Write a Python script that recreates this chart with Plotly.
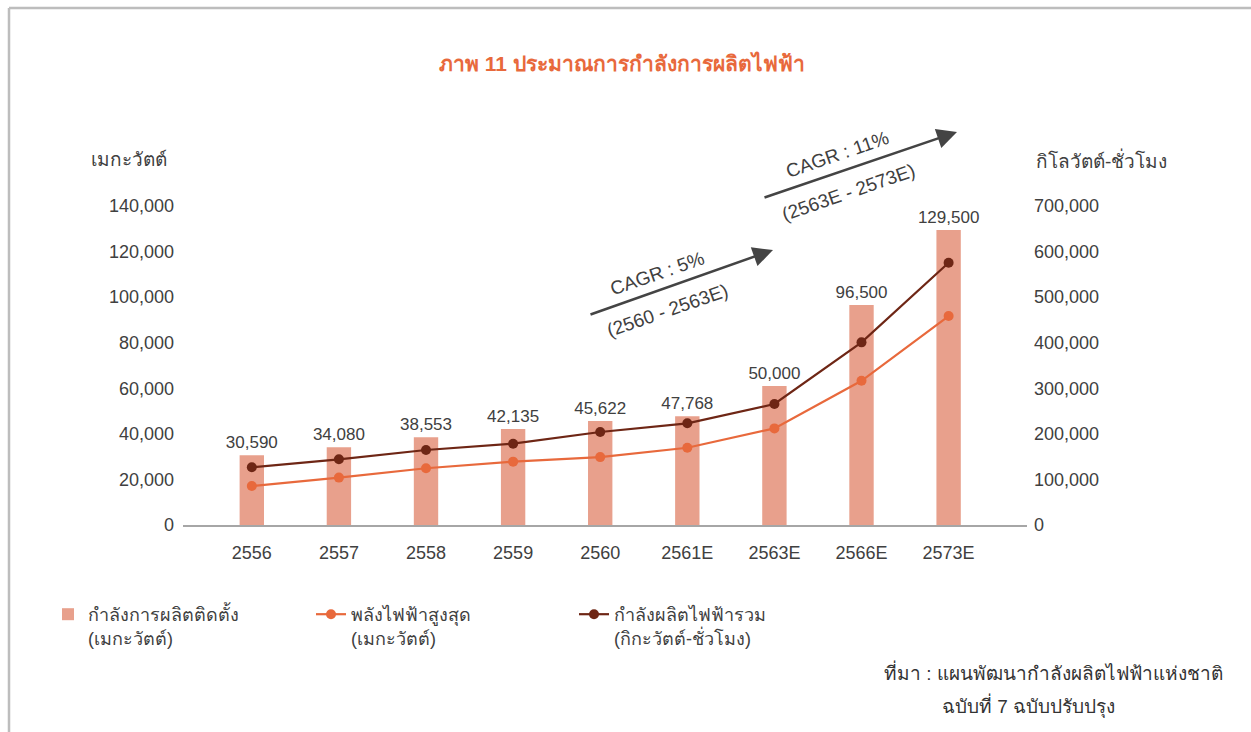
import plotly.graph_objects as go

# ---- data ----
years = ["2556", "2557", "2558", "2559", "2560", "2561E", "2563E", "2566E", "2573E"]
capacity_mw = [30590, 34080, 38553, 42135, 45622, 47768, 61000, 96500, 129500]
capacity_labels = ["30,590", "34,080", "38,553", "42,135", "45,622", "47,768", "50,000", "96,500", "129,500"]
peak_mw = [17100, 20800, 24900, 27800, 29800, 33900, 42400, 63300, 91700]
energy_kwh = [126600, 144100, 164600, 178400, 204000, 223100, 265500, 400800, 575500]
left_ticks = [0, 20000, 40000, 60000, 80000, 100000, 120000, 140000]
right_ticks = [0, 100000, 200000, 300000, 400000, 500000, 600000, 700000]

FONT = "Liberation Sans, Arial, Noto Sans, sans-serif"
TXT = "#404040"
BAR = "#E8A08C"
ORANGE = "#E8693C"
BROWN = "#6E2615"

W, H = 1251, 732
L, R, T, B = 183, 224, 206, 207
PW, PH = W - L - R, H - T - B


def px(x):
    return (x - L) / PW


def py(y):
    return (H - B - y) / PH


fig = go.Figure()
fig.add_trace(go.Bar(
    x=years, y=capacity_mw, name="กำลังการผลิตติดตั้ง<br>(เมกะวัตต์)",
    marker=dict(color=BAR, line=dict(width=0)), width=0.28,
    text=capacity_labels, textposition="outside", cliponaxis=False, constraintext="none",
    textfont=dict(size=17, color=TXT, family=FONT),
))
fig.add_trace(go.Scatter(
    x=years, y=peak_mw, name="พลังไฟฟ้าสูงสุด<br>(เมกะวัตต์)", mode="lines+markers",
    line=dict(color=ORANGE, width=2.2), marker=dict(color=ORANGE, size=10),
))
fig.add_trace(go.Scatter(
    x=years, y=energy_kwh, name="กำลังผลิตไฟฟ้ารวม<br>(กิกะวัตต์-ชั่วโมง)", mode="lines+markers",
    line=dict(color=BROWN, width=2.2), marker=dict(color=BROWN, size=10), yaxis="y2",
))


def label(text, x, y, size, color=TXT, angle=0):
    return dict(text=text, x=px(x), y=py(y), xref="paper", yref="paper", showarrow=False,
                xanchor="center", yanchor="middle", textangle=angle,
                font=dict(size=size, color=color, family=FONT))


ann = [
    label("<b>ภาพ 11 ประมาณการกำลังการผลิตไฟฟ้า</b>", 622, 63, 21, ORANGE),
    label("เมกะวัตต์", 129, 160, 19),
    label("กิโลวัตต์-ชั่วโมง", 1101, 160, 19),
    label("ที่มา : แผนพัฒนากำลังผลิตไฟฟ้าแห่งชาติ", 1053, 672, 19, "#333333"),
    label("ฉบับที่ 7 ฉบับปรับปรุง", 1028, 706, 19, "#333333"),
]
# arrows
for tip, tail in [((773, 250), (589, 315)), ((957, 132), (763, 198))]:
    ann.append(dict(text="", x=px(tip[0]), y=py(tip[1]), xref="paper", yref="paper",
                    ax=tail[0] - tip[0], ay=tail[1] - tip[1], showarrow=True,
                    arrowhead=2, arrowsize=1.6, arrowwidth=2.5, arrowcolor="#444444"))
for t, (cx, cy) in [("CAGR : 5%", (657, 273)), ("(2560 - 2563E)", (667, 310)),
                    ("CAGR : 11%", (837, 155)), ("(2563E - 2573E)", (848, 193))]:
    ann.append(label(t, cx, cy, 19, TXT, -19))

shapes = [
    dict(type="line", xref="paper", yref="paper", x0=px(9), x1=px(1252), y0=py(8), y1=py(8),
         line=dict(color="#BDBDBD", width=2.5)),
    dict(type="line", xref="paper", yref="paper", x0=px(9), x1=px(9), y0=py(8), y1=py(733),
         line=dict(color="#BDBDBD", width=2.5)),
]

fig.update_layout(
    width=W, height=H, autosize=False,
    margin=dict(l=L, r=R, t=T, b=B),
    paper_bgcolor="white", plot_bgcolor="white",
    font=dict(family=FONT, color=TXT, size=16),
    showlegend=True,
    legend=dict(orientation="h", x=px(48), y=py(596), xanchor="left", yanchor="top",
                entrywidth=218, entrywidthmode="pixels", valign="top",
                font=dict(size=18, color=TXT, family=FONT), traceorder="normal"),
    xaxis=dict(type="category", categoryorder="array", categoryarray=years,
               range=[-0.79, 8.90], showline=True, linecolor="#A6A6A6", linewidth=1.5,
               ticks="", showgrid=False, zeroline=False, ticklabelstandoff=11,
               tickfont=dict(size=18, color=TXT, family=FONT)),
    yaxis=dict(range=[0, 140000], tickvals=left_ticks, tickformat=",", showgrid=False,
               zeroline=False, showline=False, ticks="", ticklabelstandoff=8,
               tickfont=dict(size=18, color=TXT, family=FONT)),
    yaxis2=dict(range=[0, 700000], tickvals=right_ticks, tickformat=",", overlaying="y",
                side="right", showgrid=False, zeroline=False, showline=False, ticks="",
                ticklabelstandoff=6, tickfont=dict(size=18, color=TXT, family=FONT)),
    annotations=ann, shapes=shapes,
)

fig.write_html("out.html", config={"displayModeBar": False},
               post_script="document.body.style.margin='0px';")
